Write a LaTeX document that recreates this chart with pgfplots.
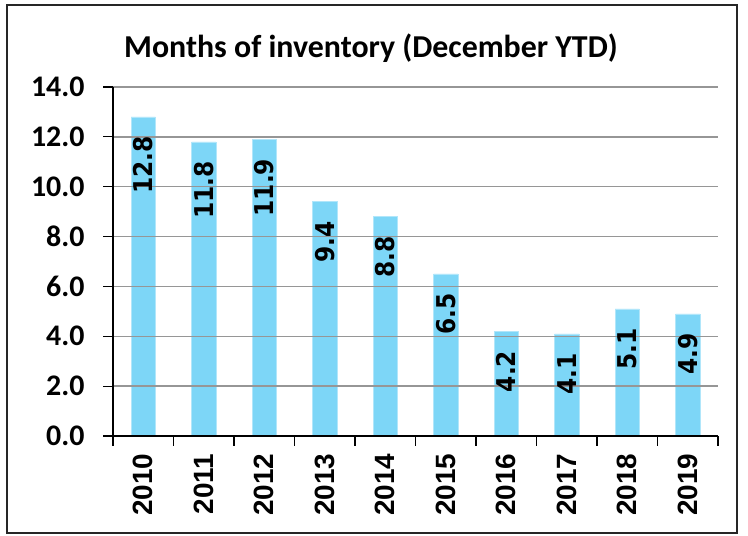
\documentclass[border=0pt]{standalone}
\usepackage{pgfplots}
\pgfplotsset{compat=1.18}
\usepackage{fontspec}
\setmainfont{Carlito}
\newfontfamily\arialfont{Liberation Sans}
\newfontfamily\dejavu{DejaVu Sans Condensed}
\definecolor{barblue}{RGB}{125,214,247}
\definecolor{gridgray}{RGB}{150,150,150}
\begin{document}
\begin{tikzpicture}[x=1bp,y=1bp]
\useasboundingbox (0,0) rectangle (748,536);
\draw[line width=1.5bp, black!85] (7,3) rectangle (737,531);
\node[anchor=base, font=\fontsize{32}{36}\selectfont\bfseries] at (371,478) {Months of inventory (December YTD)};
\begin{axis}[
  at={(113bp,100bp)}, anchor=south west,
  scale only axis, width=605bp, height=349bp,
  xmin=-0.5, xmax=9.5, ymin=0, ymax=14,
  axis x line*=bottom, axis y line*=left,
  axis line style={line width=1.6bp, black, -},
  ytick={0,2,...,14},
  xtick={0,...,9},
  xticklabels={2010,2011,2012,2013,2014,2015,2016,2017,2018,2019},
  major x tick style={draw=none},
  minor xtick={-0.5,0.5,...,9.5},
  minor tick length=10bp,
  minor x tick style={line width=1.2bp, black},
  major tick length=10bp,
  tick align=outside,
  major y tick style={line width=1.2bp, black},
  ymajorgrids, grid style={line width=1.5bp, gridgray},
  axis on top,
  /pgf/number format/assume math mode=true,
  yticklabel style={font=\fontsize{30}{32}\selectfont\bfseries, xshift=-15bp, /pgf/number format/.cd, fixed, fixed zerofill, precision=1},
  xticklabel style={font=\arialfont\fontsize{28}{30}\selectfont\bfseries, rotate=90, anchor=east, xshift=-4bp},
  ybar, bar width=0.4,
  nodes near coords,
  nodes near coords style={font=\dejavu\fontsize{26}{28}\selectfont\bfseries, yshift=-16bp, rotate=90, anchor=east,
    /pgf/number format/.cd, fixed, fixed zerofill, precision=1},
]
\addplot[fill=barblue, draw=barblue!60!white, line width=0.5bp] coordinates {
(0,12.8) (1,11.8) (2,11.9) (3,9.4) (4,8.8) (5,6.5) (6,4.2) (7,4.1) (8,5.1) (9,4.9)};
\end{axis}
\end{tikzpicture}
\end{document}
